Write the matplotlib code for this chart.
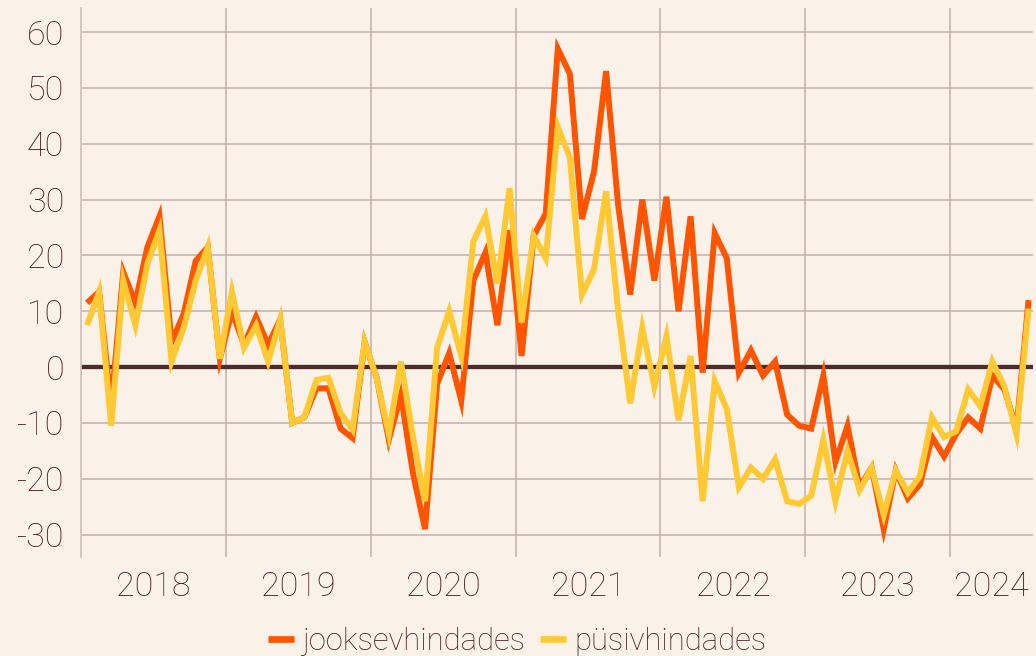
import numpy as np
import matplotlib
matplotlib.use("Agg")
import matplotlib.pyplot as plt

# monthly series, Jan 2018 .. Jul 2024
YEARS = [2018, 2019, 2020, 2021, 2022, 2023, 2024]
START_YEAR = 2018
jooksev = [
    11.5, 13.5, -7, 17, 11.5, 21.5, 27, 4.5, 9.5, 19, 21.5, 1.5,          # 2018
    10, 4, 9, 4, 8.5, -10, -9, -3.8, -3.8, -11, -12.7, 4.5,               # 2019
    -2, -13, -5, -19, -29, -3, 2.5, -6, 15.5, 20.5, 7.5, 24.5,             # 2020
    2, 23.5, 27.5, 57, 52.5, 26.5, 35, 53, 29, 13, 30, 15.5,               # 2021
    30.5, 10, 27, -1, 24, 19.5, -1, 3, -1.5, 1, -8.5, -10.5,               # 2022
    -11, -1.5, -17, -10.5, -21.5, -18, -29, -18.5, -23.5, -21, -12.5, -16,  # 2023
    -12, -9, -11, -1.5, -4, -11, 12,                                       # 2024
]
pusiv = [
    7.5, 13.5, -10.5, 15.5, 7.5, 18.5, 24.5, 1, 7, 15.5, 21.5, 1.5,
    13.5, 3.5, 7.5, 1, 8.5, -10, -9, -2.3, -1.9, -8.2, -11.2, 4.5,
    -2, -12, 1, -12.6, -24, 3.5, 10, 2, 22.5, 27, 15, 32,
    8, 23.5, 19.5, 43, 37.5, 13, 17.5, 31.5, 10, -6.5, 7, -3.5,
    5.5, -9.5, 2, -24, -2.5, -7.5, -21.5, -18, -20, -16.5, -24, -24.5,
    -23, -13, -24, -15, -22, -18, -26.5, -18.5, -22.5, -19.5, -9, -12.5,
    -11.5, -4, -7, 1, -3.5, -12, 10.5,
]
LABELS = ["jooksevhindades", "püsivhindades"]
Y_TICKS = [-30, -20, -10, 0, 10, 20, 30, 40, 50, 60]

BG = "#FAF1E9"
TXT = "#471F1F"
ORANGE = "#FF5500"
YELLOW = "#FFC933"
GRID = "#C2B0AC"

plt.rcParams["font.family"] = ["Roboto", "DejaVu Sans"]
plt.rcParams["axes.unicode_minus"] = False

# mid-month positions in decimal years
x = START_YEAR + (np.arange(len(jooksev)) + 0.5) / 12
x_end = x[-1] + 0.03

fig = plt.figure(figsize=(10.36, 6.56), dpi=100, facecolor=BG)
ax = fig.add_axes([0.0782, 0.1509, 0.997 - 0.0782, 0.9878 - 0.1509])
ax.set_facecolor(BG)

ax.axhline(0, color="#4E2B2B", lw=3.1, zorder=2)
ax.plot(x, jooksev, color=ORANGE, lw=4.3, solid_joinstyle="miter",
        solid_capstyle="butt", label=LABELS[0], zorder=3)
ax.plot(x, pusiv, color=YELLOW, lw=4.3, solid_joinstyle="miter",
        solid_capstyle="butt", label=LABELS[1], zorder=4)

ax.set_xlim(START_YEAR, x_end)
ax.set_ylim(-34.0, 64.3)

# year boundaries -> gridlines, year names centred in each (partial) year
ax.set_xticks(YEARS)
ax.set_xticklabels([])
centres = [min(y + 0.5, (y + x_end) / 2) for y in YEARS]
ax.set_xticks(centres, minor=True)
ax.set_xticklabels([str(y) for y in YEARS], minor=True)
ax.tick_params(axis="x", which="both", length=0)
ax.tick_params(axis="x", which="minor", pad=10, labelsize=24.5, labelcolor=TXT)

ax.set_yticks(Y_TICKS)
ax.set_yticklabels([str(v) for v in Y_TICKS])
ax.tick_params(axis="y", length=0, pad=12, labelsize=24.5, labelcolor=TXT)

for lab in ax.get_xticklabels(minor=True) + ax.get_yticklabels():
    lab.set_fontweight("light")

ax.grid(True, which="major", color=GRID, lw=1.1, zorder=1)
ax.set_axisbelow(True)
for side in ("top", "right", "bottom"):
    ax.spines[side].set_visible(False)
ax.spines["left"].set_color("#D4C4BC")
ax.spines["left"].set_linewidth(1.3)

leg = fig.legend(loc="center", bbox_to_anchor=(0.499, 0.022), ncol=2,
                 frameon=False, fontsize=22.3, handlelength=0.85,
                 handletextpad=0.25, columnspacing=0.5, borderpad=0,
                 borderaxespad=0)
for t in leg.get_texts():
    t.set_color(TXT)
    t.set_fontweight("light")
for h in leg.get_lines():
    h.set_linewidth(4.8)

fig.savefig("out.png", dpi=100, facecolor=BG)
